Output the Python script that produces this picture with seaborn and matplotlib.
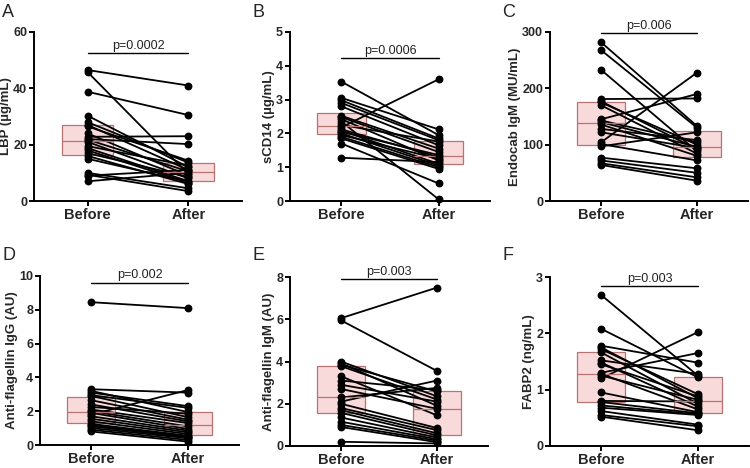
import numpy as np
import pandas as pd
import matplotlib.pyplot as plt
import seaborn as sns

# ==========================================================
# Data (paired values, one entry per subject)
# ==========================================================

panels = ["A", "B", "C", "D", "E", "F"]
ylabels = ["LBP (µg/mL)", "sCD14 (µg/mL)", "Endocab IgM (MU/mL)",
           "Anti-flagellin IgG (AU)", "Anti-flagellin IgM (AU)", "FABP2 (ng/mL)"]
pvalues = ["p=0.0002", "p=0.0006", "p=0.006", "p=0.002", "p=0.003", "p=0.003"]
ymax = [60, 5, 300, 10, 8, 3]
ystep = [20, 1, 100, 2, 2, 1]
bar_level = [52.5, 4.23, 298, 9.6, 7.9, 2.84]
times = ["Before", "After"]

lbp_before = [46.5, 45.8, 38.8, 30.3, 28.0, 27.0, 26.5, 24.0, 22.8, 22.0, 21.8,
              21.0, 19.5, 18.8, 18.0, 17.0, 16.0, 15.0, 10.0, 9.3, 9.0, 7.0]
lbp_after = [41.0, 9.5, 30.5, 12.0, 13.6, 11.0, 14.3, 9.0, 23.0, 20.2, 10.5,
             8.0, 12.5, 7.0, 6.5, 8.5, 6.0, 6.8, 4.5, 3.5, 11.0, 10.0]

scd14_before = [3.53, 3.05, 2.98, 2.90, 2.80, 2.52, 2.48, 2.42, 2.35, 2.25,
                2.18, 2.12, 2.08, 2.05, 2.00, 1.95, 1.90, 1.85, 1.70, 1.28]
scd14_after = [1.95, 2.12, 1.85, 1.80, 1.65, 1.55, 1.45, 1.20, 0.05, 1.76,
               3.60, 1.30, 1.10, 1.36, 1.05, 1.25, 1.00, 0.95, 0.52, 1.15]

endocab_before = [282, 268, 233, 181, 177, 175, 170, 145, 143, 140,
                  136, 128, 122, 104, 101, 97, 77, 72, 67, 64]
endocab_after = [133, 130, 88, 182, 92, 100, 84, 190, 104, 96,
                 80, 108, 94, 228, 72, 122, 58, 50, 42, 36]

flag_igg_before = [8.45, 3.30, 3.20, 3.10, 2.95, 2.90, 2.65, 2.40, 2.25, 2.10, 2.00,
                   1.90, 1.80, 1.70, 1.55, 1.40, 1.25, 1.18, 1.10, 1.00, 0.90, 0.80]
flag_igg_after = [8.10, 3.10, 1.95, 2.30, 2.20, 1.65, 1.50, 1.40, 1.85, 1.30, 1.10,
                  0.95, 3.25, 0.85, 0.75, 0.65, 0.55, 0.50, 0.45, 0.40, 0.30, 0.20]

flag_igm_before = [6.05, 5.95, 4.00, 3.92, 3.85, 3.78, 3.30, 3.10, 2.90, 2.70, 2.30,
                   2.10, 2.00, 1.80, 1.70, 1.57, 1.35, 1.15, 1.00, 0.90, 0.20]
flag_igm_after = [7.50, 3.55, 2.35, 1.90, 2.58, 2.20, 1.45, 2.65, 2.10, 1.76, 2.75,
                  3.10, 0.85, 0.75, 0.60, 0.50, 0.40, 0.32, 0.25, 0.18, 0.12]

fabp2_before = [2.68, 2.08, 1.78, 1.75, 1.72, 1.66, 1.52, 1.48, 1.45, 1.30, 1.28,
                1.25, 1.20, 0.95, 0.80, 0.78, 0.72, 0.68, 0.62, 0.55, 0.52]
fabp2_after = [1.25, 1.22, 1.48, 0.85, 0.92, 0.75, 1.28, 0.70, 0.88, 1.65, 0.65,
               0.82, 2.02, 0.60, 0.79, 0.58, 0.56, 0.55, 0.38, 0.35, 0.28]

pairs = [(lbp_before, lbp_after), (scd14_before, scd14_after),
         (endocab_before, endocab_after), (flag_igg_before, flag_igg_after),
         (flag_igm_before, flag_igm_after), (fabp2_before, fabp2_after)]

# ==========================================================
# Layout (pixel boxes: left, top, right, bottom)
# ==========================================================

W, H = 750, 468
rects = [(34, 32, 242, 201), (290, 32, 490, 201), (550, 32, 748, 201),
         (40, 276, 239, 445), (290, 277, 488, 446), (550, 277, 749, 446)]
letter_xy = [(2, 4), (252, 4), (502, 4), (2, 247), (252, 247), (502, 247)]

box_fill = "#f9dada"
box_edge = "#b77472"

sns.set_theme(style="ticks")
plt.rcParams["font.family"] = ["Liberation Sans", "DejaVu Sans"]

fig = plt.figure(figsize=(W / 100, H / 100), dpi=100)

for i, (before, after) in enumerate(pairs):
    l, t, r, b = rects[i]
    ax = fig.add_axes([l / W, 1 - b / H, (r - l) / W, (b - t) / H])

    n = len(before)
    df = pd.DataFrame({
        "subject": list(range(n)) * 2,
        "time": ["Before"] * n + ["After"] * n,
        "value": before + after,
    })
    df["pos"] = df["time"].map({name: k for k, name in enumerate(times)})

    sns.boxplot(data=df, x="pos", y="value", orient="x", native_scale=True,
                width=0.5, whis=0, showcaps=False, showfliers=False,
                color=box_fill, linecolor=box_edge, linewidth=0.9, saturation=1,
                whiskerprops={"linewidth": 0}, ax=ax)

    sns.lineplot(data=df, x="pos", y="value", units="subject", estimator=None,
                 sort=False, color="black", linewidth=1.3, ax=ax, legend=False)

    sns.scatterplot(data=df, x="pos", y="value", color="black", s=32,
                    linewidth=0, ax=ax, zorder=4, clip_on=False, legend=False)

    # significance bar
    h = bar_level[i]
    ax.plot([0, 1], [h, h], color="black", linewidth=1.0, clip_on=False)
    ax.annotate(pvalues[i], xy=(0.5, h), xytext=(0, 1), textcoords="offset points",
                ha="center", va="bottom", fontsize=9, color="#222222")

    ax.set_xlim(-0.53, 1.53)
    ax.set_ylim(0, ymax[i])
    ax.set_yticks(np.arange(0, ymax[i] + ystep[i] / 2, ystep[i]))
    ax.set_xticks([0, 1])
    ax.set_xticklabels(times, fontsize=10.5, fontweight="bold")
    ax.set_xlabel("")
    ax.set_ylabel(ylabels[i], fontsize=9.5, fontweight="bold", labelpad=1)
    plt.setp(ax.get_yticklabels(), fontsize=9, fontweight="bold")

    sns.despine(ax=ax)
    for side in ["left", "bottom"]:
        ax.spines[side].set_linewidth(1.4)
        ax.spines[side].set_color("black")
    ax.tick_params(width=1.4, length=3.5, color="black", pad=1.5)

    fig.text(letter_xy[i][0] / W, 1 - letter_xy[i][1] / H, panels[i],
             fontsize=13, ha="left", va="top")

fig.savefig("out.png", dpi=100)
